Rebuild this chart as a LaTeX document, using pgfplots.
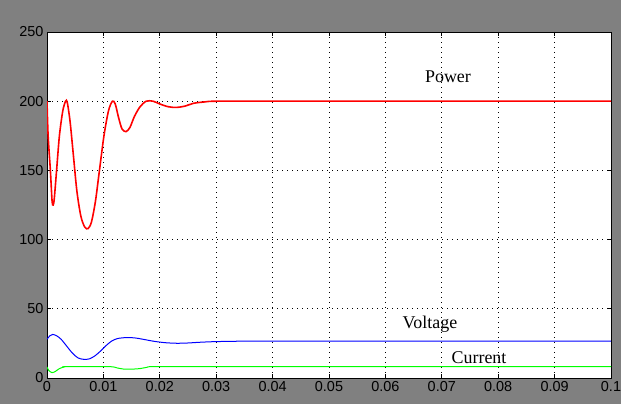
\documentclass[border=0pt]{standalone}
\usepackage{pgfplots}
\pgfplotsset{compat=1.18}
\usepackage{fontspec}
\setmainfont{Liberation Sans}
\newfontfamily\tnr{Liberation Serif}
\definecolor{bggray}{RGB}{128,128,128}
\definecolor{pred}{RGB}{255,0,0}
\definecolor{vblue}{RGB}{0,0,255}
\definecolor{cgreen}{RGB}{0,255,0}
\begin{document}
\begin{tikzpicture}
\fill[bggray] (-47bp,-26bp) rectangle (574bp,378bp);
\useasboundingbox (-47bp,-26bp) rectangle (574bp,378bp);
\begin{axis}[
  at={(0,0)}, anchor=south west,
  scale only axis, width=564bp, height=346bp,
  xmin=0, xmax=0.1, ymin=0, ymax=250,
  xtick={0,0.01,0.02,0.03,0.04,0.05,0.06,0.07,0.08,0.09,0.1},
  xticklabels={0,0.01,0.02,0.03,0.04,0.05,0.06,0.07,0.08,0.09,0.1},
  ytick={0,50,100,150,200,250},
  scaled x ticks=false,
  /pgf/number format/assume math mode=true,
  tick label style={font=\fontsize{14.5}{16}\selectfont, black},
  tick align=inside, tick pos=both,
  major tick length=4bp,
  tick style={black, line width=0.8bp},
  axis line style={black, line width=0.8bp},
  grid=major,
  major grid style={black, line width=0.8bp, dash pattern=on 1bp off 4bp},
  axis background/.style={fill=white},
  clip=true,
]
\addplot[pred, line width=1.6bp, smooth, tension=0.5] coordinates {
(0,200)(0.0002,175)(0.0006,150)(0.0009,128)(0.0011,125)(0.0013,130)(0.0017,150)
(0.0022,175)(0.0028,193)(0.0033,200)(0.0036,199)(0.0041,185)(0.0047,160)
(0.0053,135)(0.006,117)(0.0067,109)(0.0073,108)(0.0079,113)(0.0086,128)
(0.0093,150)(0.0101,175)(0.0109,193)(0.0116,200)(0.0121,198)(0.0127,188)
(0.0133,180)(0.0140,178)(0.0147,181)(0.0155,189)(0.0165,196)(0.0176,200)
(0.0188,200)(0.02,198)(0.0215,196)(0.023,195.5)(0.0245,196.5)(0.026,198.5)
(0.028,199.5)(0.03,200)(0.04,200)(0.1,200)
};
\addplot[vblue, line width=1bp, smooth, tension=0.5] coordinates {
(0,28)(0.0005,30.5)(0.001,31.5)(0.0017,30.5)(0.0025,28)(0.0035,23)(0.0045,18)
(0.0055,14.5)(0.0065,13.5)(0.0075,13.8)(0.0085,16)(0.0095,19.5)(0.0105,23.5)
(0.0115,26.8)(0.0125,28.5)(0.014,29.2)(0.0155,29)(0.017,28)(0.019,26.5)
(0.021,25.5)(0.023,25.1)(0.025,25.3)(0.027,25.8)(0.03,26.3)(0.035,26.6)(0.045,26.6)(0.1,26.6)
};
\addplot[cgreen, line width=1bp, smooth, tension=0.5] coordinates {
(0,8)(0.0003,5.5)(0.0009,3.9)(0.0015,4.8)(0.0022,6.8)(0.003,7.9)(0.0035,8.2)
(0.011,8.2)(0.0125,7.2)(0.0135,6.5)(0.015,6.4)(0.0165,6.8)(0.0178,7.8)
(0.019,8.2)(0.03,8.2)(0.1,8.2)
};
\node[font=\tnr\fontsize{18}{20}\selectfont] at (axis cs:0.0711,218) {Power};
\node[font=\tnr\fontsize{18}{20}\selectfont] at (axis cs:0.0679,39) {Voltage};
\node[font=\tnr\fontsize{18}{20}\selectfont] at (axis cs:0.0766,15) {Current};
\end{axis}
\end{tikzpicture}
\end{document}
